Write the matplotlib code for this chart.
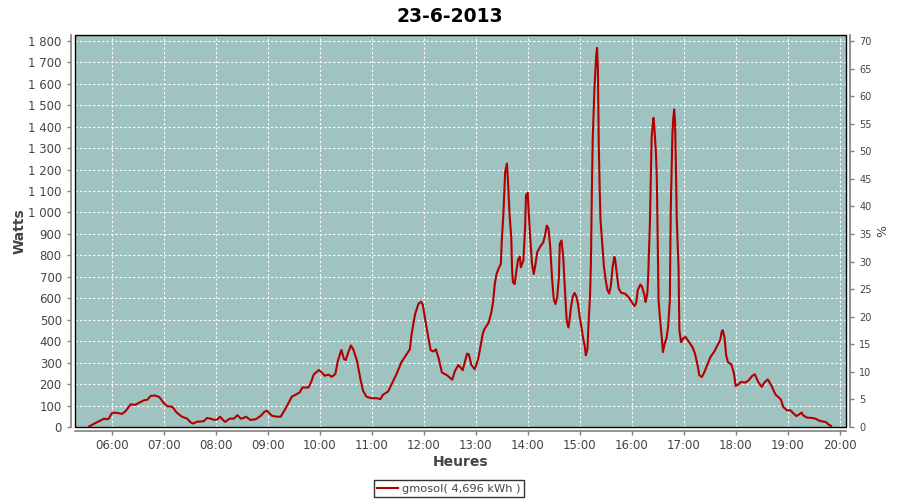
import matplotlib
matplotlib.use("Agg")
import matplotlib.pyplot as plt
from matplotlib.patches import Rectangle
from matplotlib.ticker import FuncFormatter, MultipleLocator

title = "23-6-2013"
series_name = "gmosol( 4,696 kWh )"
x_label = "Heures"
y_label = "Watts"
y2_label = "%"

times = [
    "05:34", "05:41", "05:47", "05:51", "05:55", "05:57", "06:00", "06:04", "06:12", "06:16",
    "06:22", "06:27", "06:31", "06:37", "06:41", "06:45", "06:50", "06:55", "07:00", "07:04",
    "07:10", "07:15", "07:21", "07:27", "07:31", "07:34", "07:38", "07:46", "07:50", "07:54",
    "07:58", "08:02", "08:05", "08:09", "08:11", "08:16", "08:21", "08:25", "08:29", "08:32",
    "08:35", "08:40", "08:46", "08:52", "08:56", "08:59", "09:05", "09:11", "09:15", "09:20",
    "09:24", "09:28", "09:33", "09:37", "09:40", "09:47", "09:50", "09:53", "09:59", "10:02",
    "10:06", "10:10", "10:14", "10:18", "10:21", "10:25", "10:28", "10:30", "10:33", "10:36",
    "10:39", "10:43", "10:47", "10:50", "10:54", "11:00", "11:06", "11:10", "11:13", "11:19",
    "11:23", "11:29", "11:34", "11:39", "11:44", "11:46", "11:50", "11:54", "11:57", "11:59",
    "12:02", "12:06", "12:08", "12:11", "12:14", "12:17", "12:21", "12:27", "12:31", "12:33",
    "12:36", "12:40", "12:45", "12:50", "12:52", "12:55", "12:59", "13:03", "13:06", "13:08",
    "13:10", "13:15", "13:18", "13:20", "13:22", "13:24", "13:27", "13:29", "13:30", "13:32",
    "13:34", "13:36", "13:37", "13:39", "13:41", "13:42", "13:43", "13:45", "13:47", "13:49",
    "13:51", "13:52", "13:55", "13:57", "13:58", "14:00", "14:01", "14:03", "14:05", "14:07",
    "14:09", "14:11", "14:14", "14:18", "14:20", "14:22", "14:24", "14:26", "14:28", "14:30",
    "14:32", "14:34", "14:36", "14:37", "14:39", "14:41", "14:43", "14:45", "14:47", "14:48",
    "14:50", "14:52", "14:54", "14:56", "14:58", "15:00", "15:02", "15:04", "15:06", "15:07",
    "15:09", "15:10", "15:12", "15:13", "15:14", "15:15", "15:17", "15:19", "15:20", "15:21",
    "15:22", "15:23", "15:24", "15:26", "15:28", "15:30", "15:32", "15:34", "15:36", "15:38",
    "15:40", "15:41", "15:43", "15:45", "15:48", "15:52", "15:56", "16:00", "16:03", "16:05",
    "16:07", "16:10", "16:12", "16:15", "16:16", "16:18", "16:19", "16:21", "16:22", "16:23",
    "16:25", "16:26", "16:28", "16:29", "16:30", "16:31", "16:33", "16:35", "16:36", "16:38",
    "16:40", "16:42", "16:44", "16:45", "16:47", "16:48", "16:49", "16:50", "16:51", "16:52",
    "16:54", "16:55", "16:57", "16:59", "17:02", "17:06", "17:10", "17:13", "17:16", "17:18",
    "17:21", "17:24", "17:27", "17:31", "17:35", "17:38", "17:42", "17:44", "17:45", "17:47",
    "17:49", "17:51", "17:55", "17:58", "18:00", "18:03", "18:06", "18:11", "18:15", "18:19",
    "18:22", "18:26", "18:30", "18:33", "18:37", "18:41", "18:46", "18:52", "18:55", "18:59",
    "19:03", "19:07", "19:10", "19:13", "19:16", "19:18", "19:22", "19:28", "19:32", "19:36",
    "19:40", "19:44", "19:47", "19:50",
]

watts = [
    3, 18, 30, 39, 36, 41, 64, 67, 61, 74,
    106, 103, 112, 124, 127, 145, 147, 139, 112, 97,
    94, 67, 48, 39, 22, 16, 24, 27, 42, 39,
    33, 36, 48, 30, 24, 39, 39, 55, 39, 42,
    48, 33, 36, 52, 70, 76, 52, 48, 48, 82,
    112, 142, 152, 162, 184, 184, 208, 244, 266, 255,
    239, 244, 234, 247, 309, 359, 317, 312, 348, 380,
    359, 309, 223, 169, 141, 134, 134, 130, 150, 166,
    200, 250, 300, 331, 362, 432, 525, 575, 584, 569,
    494, 401, 358, 352, 362, 324, 254, 241, 227, 221,
    261, 289, 265, 342, 339, 289, 269, 320, 386, 432,
    456, 487, 534, 581, 666, 713, 744, 760, 861, 1000,
    1189, 1228, 1166, 994, 885, 729, 674, 666, 729, 783,
    794, 744, 775, 931, 1080, 1091, 1010, 877, 760, 713,
    760, 815, 838, 861, 893, 939, 924, 838, 698, 596,
    573, 604, 698, 854, 869, 791, 635, 495, 464, 490,
    560, 607, 625, 610, 575, 513, 466, 412, 373, 334,
    365, 466, 622, 778, 1097, 1339, 1580, 1728, 1767, 1666,
    1307, 1120, 965, 856, 747, 684, 638, 622, 661, 747,
    793, 778, 708, 645, 625, 622, 607, 583, 564, 575,
    638, 664, 653, 610, 583, 622, 700, 950, 1152, 1350,
    1441, 1402, 1277, 1152, 856, 590, 489, 403, 349, 388,
    411, 466, 590, 1000, 1371, 1441, 1480, 1425, 1215, 965,
    747, 450, 395, 411, 420, 397, 373, 342, 288, 241,
    233, 257, 288, 327, 350, 373, 404, 446, 451, 420,
    334, 303, 291, 249, 191, 198, 210, 207, 218, 238,
    246, 210, 187, 207, 222, 194, 151, 129, 93, 78,
    78, 62, 51, 58, 67, 54, 44, 42, 39, 30,
    26, 23, 12, 5,
]

hour_ticks = list(range(6, 21))
hour_labels = ["%02d:00" % h for h in hour_ticks]
pct_ticks = list(range(0, 75, 5))

hours = [int(t[:2]) + int(t[3:]) / 60.0 for t in times]

plt.rcParams["font.family"] = ["DejaVu Sans"]
fig = plt.figure(figsize=(9, 5), dpi=100)
ax = fig.add_axes([75 / 900, 1 - 427 / 500, (846 - 75) / 900, (427 - 35) / 500])
ax.set_facecolor("#9ec3c1")

ax.plot(hours, watts, color="#b20000", lw=1.5, label=series_name, zorder=3)

ax.set_xlim(5.294, 20.121)
ax.set_ylim(0, 1827)
ax.set_xticks(hour_ticks)
ax.set_xticklabels(hour_labels)
ax.yaxis.set_major_locator(MultipleLocator(100))
ax.yaxis.set_major_formatter(FuncFormatter(lambda v, p: "{:,}".format(int(round(v))).replace(",", " ")))
ax.grid(True, color="white", ls=(0, (2, 2)), lw=0.8)
ax.set_axisbelow(True)

ax2 = ax.twinx()
ax2.set_ylim(0, 71.1)
ax2.set_yticks(pct_ticks)

grey = "#808080"
tc = "#444444"
for a in (ax, ax2):
    for s in a.spines.values():
        s.set_visible(False)
ax.spines["left"].set_visible(True)
ax.spines["bottom"].set_visible(True)
ax2.spines["right"].set_visible(True)
for s in (ax.spines["left"], ax.spines["bottom"], ax2.spines["right"]):
    s.set_position(("outward", 3))
    s.set_color(grey)
    s.set_linewidth(1.2)

ax.tick_params(axis="both", colors=grey, labelcolor=tc, labelsize=8.5, length=3, width=1)
ax.tick_params(axis="x", pad=2.5)
ax2.tick_params(axis="y", colors=grey, labelcolor=tc, labelsize=7, length=3, width=1)

ax.add_patch(Rectangle((0, 0), 1, 1, transform=ax.transAxes, fill=False,
                       edgecolor="black", lw=1.0, clip_on=False, zorder=5))

ax.set_xlabel(x_label, fontsize=10, fontweight="bold", color=tc, labelpad=2)
ax.set_ylabel(y_label, fontsize=10, fontweight="bold", color=tc, labelpad=1)
ax2.set_ylabel(y2_label, fontsize=9, color=tc, labelpad=3)

fig.text(0.5, 0.968, title, ha="center", va="center", fontsize=13.5, fontweight="bold")

leg = fig.legend(loc="lower center", bbox_to_anchor=(0.499, -0.006), fontsize=8.2,
                 frameon=True, fancybox=False, edgecolor="black", handlelength=1.8,
                 borderpad=0.3, handletextpad=0.4)
leg.get_frame().set_linewidth(1)
for t in leg.get_texts():
    t.set_color(tc)

fig.savefig("out.png", dpi=100, facecolor="white")
